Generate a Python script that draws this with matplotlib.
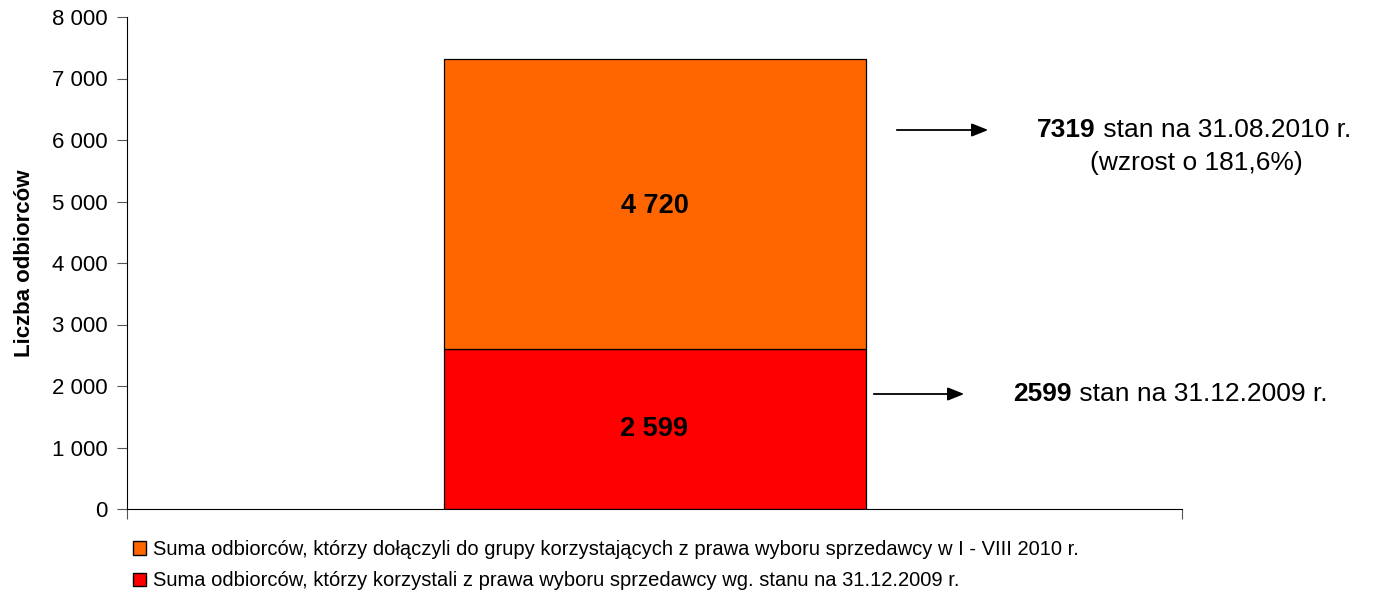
import matplotlib.pyplot as plt
from matplotlib.patches import Patch

plt.rcParams['font.family'] = ['Liberation Sans', 'DejaVu Sans']

# dane
stan_2009 = 2599
przyrost_2010 = 4720
suma_2010 = 7319
wzrost = "181,6%"
etykiety = ["Suma odbiorców, którzy dołączyli do grupy korzystających z prawa wyboru sprzedawcy w I - VIII 2010 r.",
            "Suma odbiorców, którzy korzystali z prawa wyboru sprzedawcy wg. stanu na 31.12.2009 r."]
y_ticks = [0, 1000, 2000, 3000, 4000, 5000, 6000, 7000, 8000]
kolory = ['#FF6600', '#FF0000']

W, H = 1373, 596
fig = plt.figure(figsize=(W / 100, H / 100), dpi=100)
ax = fig.add_axes([127 / W, 1 - 509 / H, (1182 - 127) / W, (509 - 17) / H])

ax.bar(0, stan_2009, width=0.4, color=kolory[1], edgecolor='black', linewidth=0.9)
ax.bar(0, przyrost_2010, width=0.4, bottom=stan_2009, color=kolory[0], edgecolor='black', linewidth=0.9)

ax.text(0, stan_2009 / 2, "2 599", ha='center', va='center', fontsize=19.5, fontweight='bold')
ax.text(0, stan_2009 + przyrost_2010 / 2 - 40, "4 720", ha='center', va='center', fontsize=19.5, fontweight='bold')

ax.set_xlim(-0.5, 0.5)
ax.set_ylim(0, 8000)
ax.set_yticks(y_ticks)
ax.set_yticklabels([f"{v:,}".replace(",", " ") for v in y_ticks], fontsize=16)
ax.set_xticks([-0.5, 0.5])
ax.set_xticklabels([])
ax.tick_params(direction='out', length=7, color='#555555', pad=7)
ax.spines['top'].set_visible(False)
ax.spines['right'].set_visible(False)
ax.set_ylabel("Liczba odbiorców", fontsize=16, fontweight='bold', labelpad=12)

# strzalki i opisy (wspolrzedne figury w pikselach)
def fx(px):
    return px / W

def fy(py):
    return 1 - py / H

ax.annotate("", xy=(fx(991), fy(130)), xytext=(fx(894), fy(130)), xycoords='figure fraction',
            arrowprops=dict(arrowstyle='-|>,head_length=1.0,head_width=0.4', color='black', lw=1.3))
ax.annotate("", xy=(fx(967), fy(394)), xytext=(fx(871), fy(394)), xycoords='figure fraction',
            arrowprops=dict(arrowstyle='-|>,head_length=1.0,head_width=0.4', color='black', lw=1.3))

fig.text(fx(1096), fy(130), str(suma_2010), ha='right', va='center', fontsize=19, fontweight='bold')
fig.text(fx(1096), fy(130), " stan na 31.08.2010 r.", ha='left', va='center', fontsize=19)
fig.text(fx(1196), fy(163), "(wzrost o " + wzrost + ")", ha='center', va='center', fontsize=19)

fig.text(fx(1072), fy(394), str(stan_2009), ha='right', va='center', fontsize=19, fontweight='bold')
fig.text(fx(1072), fy(394), " stan na 31.12.2009 r.", ha='left', va='center', fontsize=19)

uchwyty = [Patch(facecolor=kolory[0], edgecolor='black', linewidth=1.0),
           Patch(facecolor=kolory[1], edgecolor='black', linewidth=1.0)]
fig.legend(uchwyty, etykiety, loc='upper left', bbox_to_anchor=(fx(133), fy(540)), frameon=False,
           fontsize=14.5, handlelength=0.65, handleheight=0.65, handletextpad=0.35, labelspacing=0.62,
           borderpad=0, borderaxespad=0)

fig.savefig('out.png', dpi=100)
